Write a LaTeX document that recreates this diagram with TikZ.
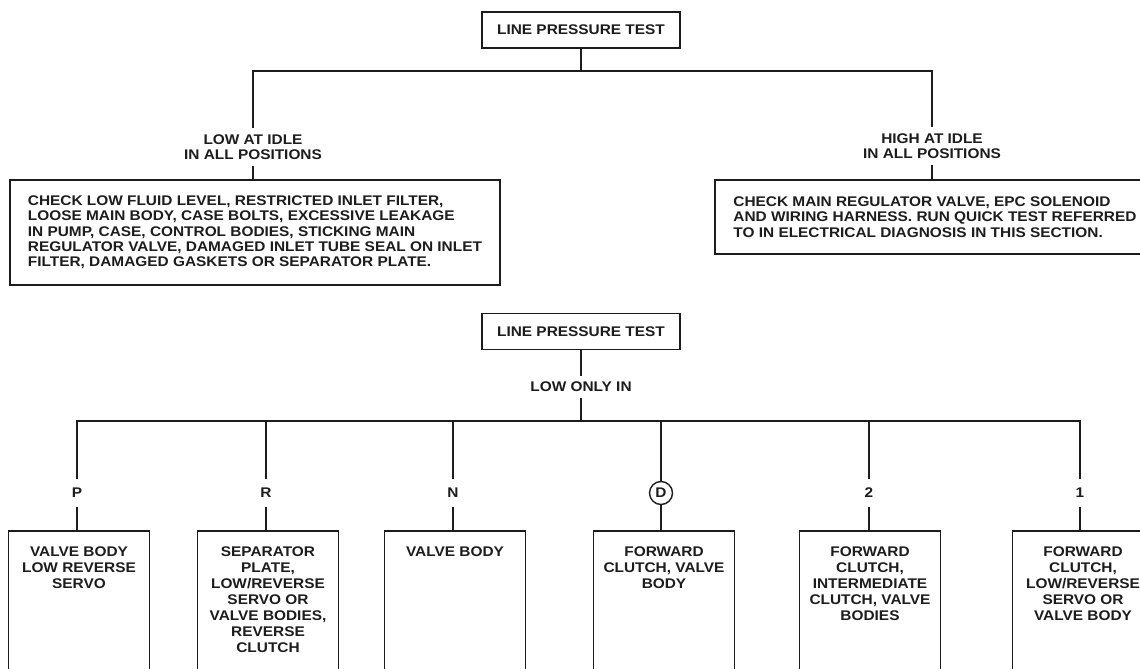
\documentclass[tikz,border=0pt]{standalone}
\usepackage{fontspec}
\usepackage{tikz}
\usetikzlibrary{positioning}
\newfontfamily\manualfont[FakeStretch=1.1]{Liberation Sans}
\newcommand\manualtext{\manualfont\bfseries\fontsize{14}{15.3}\selectfont}
\newcommand\geartext{\manualfont\bfseries\fontsize{14}{16}\selectfont}
\definecolor{ManInk}{HTML}{1C1C1C}
\tikzset{
  testbox/.style={draw=ManInk,line width=1.9pt,minimum width=198pt,minimum height=36pt,inner sep=0pt,text=ManInk,font=\manualtext},
  caselabel/.style={inner sep=6pt,align=center,text=ManInk,font=\manualtext},
  checkbox/.style={draw=ManInk,line width=1.9pt,anchor=north west,align=left,inner xsep=13pt,text=ManInk,font=\manualtext},
  gearlabel/.style={inner sep=9pt,text=ManInk,font=\manualtext},
  gearring/.style={circle,draw=ManInk,line width=1.4pt,minimum size=23pt,inner sep=0pt,text=ManInk,font=\manualtext},
  gearbox/.style={draw=ManInk,line width=1.9pt,minimum width=141pt,minimum height=160pt,anchor=north},
  gearnote/.style={anchor=north,inner sep=0pt,yshift=-17pt,align=center,text=ManInk,font=\geartext},
  link/.style={line width=1.9pt,draw=ManInk}
}

\begin{document}
\begin{tikzpicture}[x=1pt,y=-1pt]
\useasboundingbox (0,0) rectangle (1140,669);
\clip (0,0) rectangle (1140,669);

% upper chart
\node[testbox] (test1) at (581,30) {LINE PRESSURE TEST};
\coordinate (j1) at (581,71);
\node[caselabel] (lowidle) at (253,147) {LOW AT IDLE\\IN ALL POSITIONS};
\node[caselabel] (hiidle) at (932,146) {HIGH AT IDLE\\IN ALL POSITIONS};
\node[checkbox,minimum width=490pt,minimum height=105pt] (lowcheck) at (9,179)
  {CHECK LOW FLUID LEVEL, RESTRICTED INLET FILTER,\\
   LOOSE MAIN BODY, CASE BOLTS, EXCESSIVE LEAKAGE\\
   IN PUMP, CASE, CONTROL BODIES, STICKING MAIN\\
   REGULATOR VALVE, DAMAGED INLET TUBE SEAL ON INLET\\
   FILTER, DAMAGED GASKETS OR SEPARATOR PLATE.};
\node[checkbox,minimum width=440pt,minimum height=74pt] (hicheck) at (714,179)
  {CHECK MAIN REGULATOR VALVE, EPC SOLENOID\\
   AND WIRING HARNESS. RUN QUICK TEST REFERRED\\
   TO IN ELECTRICAL DIAGNOSIS IN THIS SECTION.};
\draw[link] (test1.south)--(j1);
\draw[link] (lowidle.north) |- (j1) -| (hiidle.north);
\draw[link] (lowidle.south)--(lowidle.south |- lowcheck.north);
\draw[link] (hiidle.south)--(hiidle.south |- hicheck.north);

% lower chart
\node[testbox] (test2) at (581,331.5) {LINE PRESSURE TEST};
\node[caselabel] (lowonly) at (581,387) {LOW ONLY IN};
\coordinate (j2) at (581,421);
\node[gearlabel] (gp) at (77,493) {P};
\node[gearlabel] (gr) at (266,493) {R};
\node[gearlabel] (gn) at (453,493) {N};
\node[gearring] (gd) at (661,493) {D};
\node[gearlabel] (g2) at (869,493) {2};
\node[gearlabel] (g1) at (1080,493) {1};
\node[gearbox,label={[gearnote]north:{VALVE BODY\\LOW REVERSE\\SERVO}}] (bp) at (79,530) {};
\node[gearbox,label={[gearnote]north:{SEPARATOR\\PLATE,\\LOW/REVERSE\\SERVO OR\\VALVE BODIES,\\REVERSE\\CLUTCH}}] (br) at (268,530) {};
\node[gearbox,label={[gearnote]north:{VALVE BODY}}] (bn) at (455,530) {};
\node[gearbox,label={[gearnote]north:{FORWARD\\CLUTCH, VALVE\\BODY}}] (bd) at (664,530) {};
\node[gearbox,label={[gearnote]north:{FORWARD\\CLUTCH,\\INTERMEDIATE\\CLUTCH, VALVE\\BODIES}}] (b2) at (870,530) {};
\node[gearbox,label={[gearnote]north:{FORWARD\\CLUTCH,\\LOW/REVERSE\\SERVO OR\\VALVE BODY}}] (b1) at (1083,530) {};
\draw[link] (test2.south)--(lowonly.north);
\draw[link] (lowonly.south)--(j2);
\draw[link] (gp.north) |- (j2) -| (g1.north);
\foreach \g in {gr,gn,gd,g2}
  \draw[link] (\g.north)--(\g.north |- j2);
\foreach \g/\b in {gp/bp,gr/br,gn/bn,gd/bd,g2/b2,g1/b1}
  \draw[link] (\g.south)--(\g.south |- \b.north);
\end{tikzpicture}
\end{document}
